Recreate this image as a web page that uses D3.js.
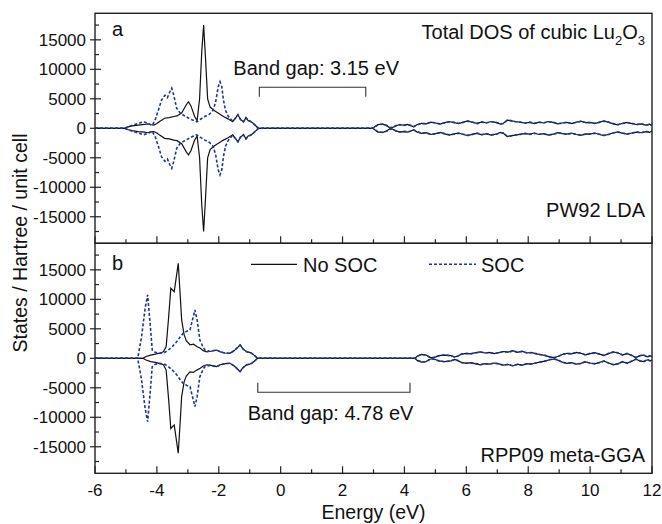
<!DOCTYPE html>
<html>
<head>
<meta charset="utf-8">
<script src="https://cdn.jsdelivr.net/npm/d3@7"></script>
<style>
  body { margin: 0; background: #fff; }
  text { font-family: "Liberation Sans", Arial, sans-serif; fill: #111; }
</style>
</head>
<body>
<svg id="chart" width="662" height="524"></svg>
<script>
// Energy (eV) and DOS (states / Hartree / unit cell), spin-up half; spin-down is drawn mirrored
const valA_noSOC = [[-6,0],[-5.05,0],[-4.95,200],[-4.8,400],[-4.6,550],[-4.4,650],[-4.3,750],[-4.2,600],[-4.1,550],[-4.0,800],[-3.9,1200],[-3.75,1700],[-3.6,1800],[-3.45,2000],[-3.35,2100],[-3.2,2600],[-3.05,4000],[-2.98,4500],[-2.9,3800],[-2.78,2000],[-2.7,1300],[-2.62,5000],[-2.55,13000],[-2.49,17500],[-2.43,12000],[-2.36,5000],[-2.28,3600],[-2.15,3000],[-2.0,2500],[-1.85,2000],[-1.7,1600],[-1.55,1100],[-1.45,1800],[-1.38,2300],[-1.3,1500],[-1.2,1100],[-1.12,1800],[-1.05,1300],[-0.98,1200],[-0.88,800],[-0.78,300],[-0.72,0]];
const valA_SOC = [[-6,0],[-5.05,0],[-4.9,300],[-4.75,600],[-4.6,800],[-4.44,1100],[-4.3,900],[-4.15,500],[-4.05,1500],[-3.95,3100],[-3.85,4800],[-3.74,5600],[-3.66,5200],[-3.58,6200],[-3.52,6800],[-3.45,5500],[-3.36,3400],[-3.25,2600],[-3.15,2250],[-3.0,1800],[-2.85,1400],[-2.71,1100],[-2.6,1500],[-2.45,2000],[-2.3,2400],[-2.18,3100],[-2.1,4500],[-2.02,7000],[-1.96,7900],[-1.9,7000],[-1.85,4800],[-1.78,3000],[-1.69,2000],[-1.55,1200],[-1.45,1800],[-1.38,2300],[-1.3,1500],[-1.2,1100],[-1.12,1800],[-1.05,1300],[-0.98,1200],[-0.88,800],[-0.78,300],[-0.72,0]];
const condA_noSOC = [[2.98,0],[3.05,300],[3.15,650],[3.3,700],[3.42,450],[3.53,80],[3.62,150],[3.72,450],[3.85,600],[3.98,550],[4.1,650],[4.2,450],[4.3,250],[4.4,600],[4.55,850],[4.7,750],[4.85,1050],[5.0,900],[5.15,700],[5.3,950],[5.45,1150],[5.6,950],[5.75,800],[5.9,1050],[6.05,1250],[6.2,1000],[6.35,850],[6.5,1100],[6.65,900],[6.8,1150],[6.95,1000],[7.1,700],[7.2,850],[7.32,1400],[7.45,1250],[7.6,1150],[7.75,1000],[7.9,900],[8.05,1000],[8.2,800],[8.35,1050],[8.5,900],[8.65,1150],[8.8,1000],[8.95,750],[9.1,900],[9.25,1000],[9.4,800],[9.55,1050],[9.7,1200],[9.85,950],[10.0,1000],[10.15,800],[10.3,1050],[10.45,1250],[10.6,1000],[10.75,750],[10.9,600],[11.05,850],[11.2,1000],[11.35,800],[11.5,650],[11.65,750],[11.8,550],[11.92,700],[12.0,450]];
const condA_SOC = [[2.98,0],[3.05,250],[3.15,600],[3.3,700],[3.42,500],[3.53,100],[3.62,200],[3.72,400],[3.85,650],[3.98,500],[4.1,600],[4.2,500],[4.3,300],[4.4,550],[4.55,800],[4.7,800],[4.85,1000],[5.0,950],[5.15,750],[5.3,900],[5.45,1100],[5.6,1000],[5.75,850],[5.9,1000],[6.05,1200],[6.2,1050],[6.35,800],[6.5,1050],[6.65,950],[6.8,1100],[6.95,1050],[7.1,750],[7.2,800],[7.32,1350],[7.45,1300],[7.6,1100],[7.75,1050],[7.9,850],[8.05,1050],[8.2,850],[8.35,1000],[8.5,950],[8.65,1100],[8.8,1050],[8.95,800],[9.1,850],[9.25,1050],[9.4,850],[9.55,1000],[9.7,1150],[9.85,1000],[10.0,950],[10.15,850],[10.3,1000],[10.45,1200],[10.6,1050],[10.75,800],[10.9,650],[11.05,800],[11.2,950],[11.35,850],[11.5,600],[11.65,800],[11.8,500],[11.92,650],[12.0,500]];

const valB_noSOC = [[-6,0],[-4.45,0],[-4.35,300],[-4.2,550],[-4.05,700],[-3.9,900],[-3.79,1100],[-3.7,2000],[-3.62,7000],[-3.55,11900],[-3.48,11500],[-3.44,11300],[-3.38,13500],[-3.31,16100],[-3.25,11000],[-3.2,6500],[-3.12,4000],[-3.05,3000],[-2.93,2300],[-2.82,2400],[-2.71,2000],[-2.6,1700],[-2.5,1300],[-2.39,1100],[-2.25,1200],[-2.07,1400],[-1.95,1100],[-1.8,900],[-1.64,850],[-1.5,1300],[-1.38,1900],[-1.31,2260],[-1.22,1600],[-1.1,1100],[-1.0,1000],[-0.94,850],[-0.85,500],[-0.75,0]];
const valB_SOC = [[-6,0],[-4.62,0],[-4.5,3500],[-4.38,8500],[-4.3,10750],[-4.22,6000],[-4.15,1400],[-4.05,1000],[-3.9,850],[-3.75,1000],[-3.63,1400],[-3.5,2000],[-3.36,2800],[-3.25,3600],[-3.15,4250],[-3.03,4600],[-2.93,4800],[-2.85,6500],[-2.77,8200],[-2.7,6500],[-2.61,3100],[-2.5,1800],[-2.44,1400],[-2.3,1200],[-2.07,1400],[-1.95,1100],[-1.8,900],[-1.64,850],[-1.5,1300],[-1.38,1900],[-1.31,2260],[-1.22,1600],[-1.1,1100],[-1.0,1000],[-0.94,850],[-0.85,500],[-0.75,0]];
const condB_noSOC = [[4.34,0],[4.42,400],[4.55,650],[4.7,550],[4.8,200],[4.9,80],[5.0,200],[5.1,450],[5.3,550],[5.5,450],[5.62,200],[5.72,400],[5.85,700],[6.0,850],[6.15,750],[6.3,950],[6.45,1100],[6.6,900],[6.75,1000],[6.9,800],[7.05,950],[7.2,1150],[7.35,1050],[7.5,1300],[7.65,1000],[7.8,1200],[7.95,900],[8.1,1000],[8.25,750],[8.4,650],[8.55,450],[8.7,250],[8.85,100],[8.95,300],[9.1,650],[9.25,850],[9.4,750],[9.55,1000],[9.7,850],[9.85,600],[10.0,800],[10.15,950],[10.3,700],[10.45,500],[10.6,800],[10.75,1100],[10.9,900],[11.05,600],[11.2,800],[11.35,500],[11.48,100],[11.6,450],[11.72,550],[11.85,250],[11.93,400],[12.0,350]];
const condB_SOC = [[4.34,0],[4.42,350],[4.55,600],[4.7,600],[4.8,250],[4.9,100],[5.0,250],[5.1,400],[5.3,600],[5.5,400],[5.62,250],[5.72,350],[5.85,750],[6.0,800],[6.15,800],[6.3,900],[6.45,1050],[6.6,950],[6.75,950],[6.9,850],[7.05,900],[7.2,1200],[7.35,1000],[7.5,1250],[7.65,1050],[7.8,1150],[7.95,950],[8.1,950],[8.25,800],[8.4,600],[8.55,500],[8.7,200],[8.85,150],[8.95,250],[9.1,700],[9.25,800],[9.4,800],[9.55,950],[9.7,900],[9.85,550],[10.0,850],[10.15,900],[10.3,750],[10.45,450],[10.6,850],[10.75,1050],[10.9,950],[11.05,550],[11.2,850],[11.35,450],[11.48,150],[11.6,400],[11.72,600],[11.85,200],[11.93,450],[12.0,300]];

const yMajor = [-15000, -10000, -5000, 0, 5000, 10000, 15000];
const yMinor = [-17500, -12500, -7500, -2500, 2500, 7500, 12500, 17500];
const xMajor = [-6, -4, -2, 0, 2, 4, 6, 8, 10, 12];
const xMinor = [-5, -3, -1, 1, 3, 5, 7, 9, 11];
const gapA = [-0.69, 2.75];
const gapB = [-0.74, 4.18];

const svg = d3.select("#chart");
const left = 95, right = 652;
const blue = "#1f3596";

const x = d3.scaleLinear().domain([-6, 12]).range([left, right]);

const panels = [
  { top: 13.3, bottom: 243.3, noSOC: valA_noSOC.concat(condA_noSOC), SOC: valA_SOC.concat(condA_SOC) },
  { top: 243.3, bottom: 473.3, noSOC: valB_noSOC.concat(condB_noSOC), SOC: valB_SOC.concat(condB_SOC) }
];

panels.forEach((p, i) => {
  const y = d3.scaleLinear().domain([-19500, 19500]).range([p.bottom, p.top]);
  const g = svg.append("g");

  // Y ticks
  g.selectAll(".ymaj").data(yMajor).enter().append("line")
    .attr("x1", left - 5).attr("x2", left + 6)
    .attr("y1", d => y(d)).attr("y2", d => y(d))
    .attr("stroke", "#222").attr("stroke-width", 1.2);
  g.selectAll(".ymin").data(yMinor).enter().append("line")
    .attr("x1", left).attr("x2", left + 4)
    .attr("y1", d => y(d)).attr("y2", d => y(d))
    .attr("stroke", "#222").attr("stroke-width", 1.2);
  g.selectAll(".ylab").data(yMajor).enter().append("text")
    .attr("x", left - 9).attr("y", d => y(d) + 6)
    .attr("text-anchor", "end").attr("font-size", 17)
    .text(d => d);

  // X ticks (inward, at bottom of each panel)
  g.selectAll(".xmaj").data(xMajor).enter().append("line")
    .attr("x1", d => x(d)).attr("x2", d => x(d))
    .attr("y1", p.bottom).attr("y2", p.bottom - 7)
    .attr("stroke", "#222").attr("stroke-width", 1.2);
  g.selectAll(".xmin").data(xMinor).enter().append("line")
    .attr("x1", d => x(d)).attr("x2", d => x(d))
    .attr("y1", p.bottom).attr("y2", p.bottom - 4)
    .attr("stroke", "#222").attr("stroke-width", 1.2);

  const up = d3.line().x(d => x(d[0])).y(d => y(d[1]));
  const down = d3.line().x(d => x(d[0])).y(d => y(-d[1]));

  [up, down].forEach(l => {
    g.append("path").datum(p.noSOC).attr("d", l)
      .attr("fill", "none").attr("stroke", "#111").attr("stroke-width", 1.2);
  });
  [up, down].forEach(l => {
    g.append("path").datum(p.SOC).attr("d", l)
      .attr("fill", "none").attr("stroke", blue).attr("stroke-width", 1.6)
      .attr("stroke-dasharray", "3,2");
  });

  g.append("rect")
    .attr("x", left).attr("y", p.top)
    .attr("width", right - left).attr("height", p.bottom - p.top)
    .attr("fill", "none").attr("stroke", "#222").attr("stroke-width", 1.4);
});

// X tick labels
svg.selectAll(".xlab").data(xMajor).enter().append("text")
  .attr("x", d => x(d)).attr("y", 496)
  .attr("text-anchor", "middle").attr("font-size", 17)
  .text(d => d);

svg.append("text").attr("x", (left + right) / 2).attr("y", 519)
  .attr("text-anchor", "middle").attr("font-size", 19.5)
  .text("Energy (eV)");

svg.append("text")
  .attr("transform", "translate(27,243) rotate(-90)")
  .attr("text-anchor", "middle").attr("font-size", 19.5)
  .text("States / Hartree / unit cell");

// Panel labels and annotations
svg.append("text").attr("x", 112).attr("y", 36).attr("font-size", 20).text("a");
svg.append("text").attr("x", 112).attr("y", 270).attr("font-size", 20).text("b");

const title = svg.append("text").attr("x", 645).attr("y", 39)
  .attr("text-anchor", "end").attr("font-size", 20);
title.append("tspan").text("Total DOS of cubic Lu");
title.append("tspan").attr("font-size", 13).attr("dy", 6).text("2");
title.append("tspan").attr("dy", -6).text("O");
title.append("tspan").attr("font-size", 13).attr("dy", 6).text("3");

svg.append("text").attr("x", 645).attr("y", 216.7)
  .attr("text-anchor", "end").attr("font-size", 20).text("PW92 LDA");
svg.append("text").attr("x", 645).attr("y", 462)
  .attr("text-anchor", "end").attr("font-size", 20).text("RPP09 meta-GGA");

// Band gap brackets
svg.append("path")
  .attr("d", `M${x(gapA[0])},96.7V87.3H${x(gapA[1])}V96.7`)
  .attr("fill", "none").attr("stroke", "#333").attr("stroke-width", 1.1);
svg.append("text").attr("x", 233.3).attr("y", 75).attr("font-size", 20)
  .text("Band gap: 3.15 eV");

svg.append("path")
  .attr("d", `M${x(gapB[0])},382.7V392.3H${x(gapB[1])}V382.7`)
  .attr("fill", "none").attr("stroke", "#333").attr("stroke-width", 1.1);
svg.append("text").attr("x", 247.7).attr("y", 420).attr("font-size", 20)
  .text("Band gap: 4.78 eV");

// Legend
svg.append("line").attr("x1", 251).attr("x2", 297).attr("y1", 264.3).attr("y2", 264.3)
  .attr("stroke", "#111").attr("stroke-width", 1.2);
svg.append("text").attr("x", 303).attr("y", 271.7).attr("font-size", 20).text("No SOC");
svg.append("line").attr("x1", 429).attr("x2", 476).attr("y1", 264.3).attr("y2", 264.3)
  .attr("stroke", blue).attr("stroke-width", 1.6).attr("stroke-dasharray", "3,2");
svg.append("text").attr("x", 481).attr("y", 271.7).attr("font-size", 20).text("SOC");
</script>
</body>
</html>
